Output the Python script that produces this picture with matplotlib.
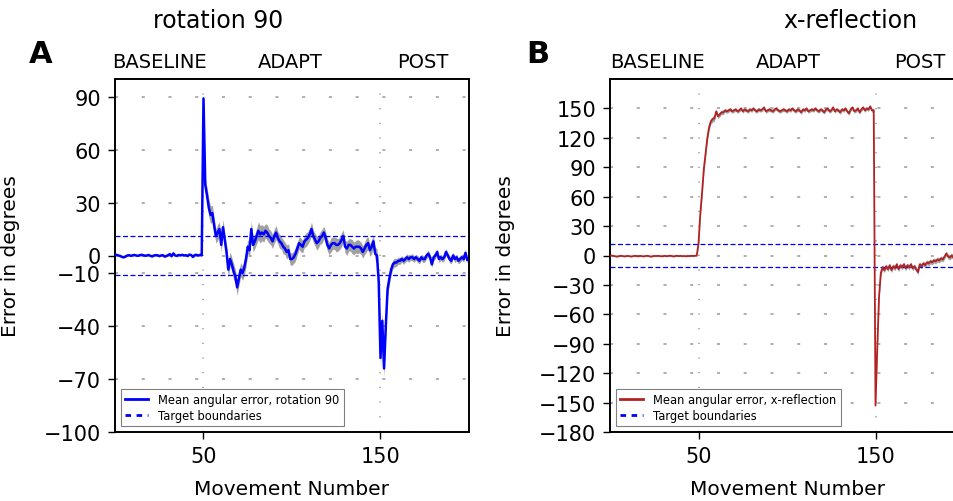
import matplotlib
matplotlib.use("Agg")
import matplotlib.pyplot as plt
import matplotlib.transforms as mtransforms
from matplotlib.lines import Line2D
import numpy as np

# movement numbers run 0..199: baseline 0-49, adapt 50-149, post 150-199
phase_names = ["BASELINE", "ADAPT", "POST"]
x_ticks = [50, 150]

# rotation 90: mean angular error per movement
rot_base = [0.5, 0.3, 0.0, -0.3, -0.8, -1.0, -0.5, 0.0, 0.2, -0.2,
            0.1, 0.3, 0.0, -0.2, 0.2, 0.4, 0.1, -0.1, 0.0, 0.3,
            -0.2, -0.5, 0.0, 0.2, 0.1, -0.3, 0.0, 0.2, -0.6, -0.3,
            0.2, 0.8, -0.4, 1.2, 0.0, -0.2, 0.3, 0.1, 0.4, 0.0,
            0.2, -0.3, 0.5, 0.3, -0.8, 0.2, 0.4, 0.0, 0.3, 0.1]
rot_adapt = [89, 40, 34, 27, 23, 24, 17, 11, 13, 15,
             6, 16, 9, 2, -8, -2, -5, -9, -12, -18,
             -13, -8, -10, -7, -2, 5, 3, 15, 6, 8,
             11, 14, 12, 13, 12, 14, 13, 11, 10, 8,
             11, 13, 10, 8, 7, 5, 4, 2, 3, -2,
             -2, -1, 1, 4, 7, 6, 5, 8, 9, 10,
             12, 15, 11, 9, 7, 8, 10, 11, 13, 10,
             6, 4, 6, 7, 7, 6, 6, 7, 9, 11,
             5, 4, 6, 6, 5, 4, 5, 5, 5, 4,
             2, 4, 6, 7, 3, 5, 8, 1, 0, -15]
rot_post = [-58, -37, -64, -40, -19, -13, -8, -5, -4, -4,
            -3, -3, -2, -3, -2, -1, -2, -1, -1, -2,
            -1, -2, -3, -1, -2, -2, 0, 1, -1, -5,
            -1, 0, 2, -2, -1, -2, -1, 2, 0, -2,
            -3, 0, -2, -1, -3, -2, -1, -2, 1.5, -2.5]
rot_sem = [0.4, 0.5, 0.4, 0.5, 0.6, 0.5, 0.4, 0.5, 0.4, 0.5,
           0.5, 0.4, 0.5, 0.4, 0.5, 0.6, 0.5, 0.4, 0.5, 0.4,
           0.4, 0.5, 0.4, 0.5, 0.6, 0.5, 0.4, 0.5, 0.4, 0.5,
           0.5, 0.4, 0.5, 0.4, 0.5, 0.6, 0.5, 0.4, 0.5, 0.4,
           0.4, 0.5, 0.4, 0.5, 0.6, 0.5, 0.4, 0.5, 0.4, 0.5,
           2.0, 4.0, 4.5, 5.0, 5.0, 4.5, 4.5, 4.0, 4.5, 4.0,
           4.0, 4.5, 4.0, 4.0, 4.5, 4.0, 4.0, 4.5, 4.0, 4.5,
           4.0, 4.0, 4.0, 4.5, 4.5, 4.0, 4.0, 4.5, 4.0, 4.0,
           4.5, 5.0, 5.0, 4.5, 4.5, 4.0, 4.5, 4.0, 4.0, 4.0,
           4.0, 4.0, 3.5, 4.0, 3.5, 4.0, 3.5, 4.0, 3.5, 3.5,
           3.5, 3.5, 4.0, 3.5, 3.5, 4.0, 3.5, 3.5, 4.0, 3.5,
           3.5, 4.0, 3.5, 3.5, 4.0, 3.5, 3.5, 4.0, 3.5, 3.5,
           3.5, 3.5, 4.0, 3.5, 3.5, 4.0, 3.5, 3.5, 4.0, 3.5,
           3.5, 4.0, 3.5, 3.5, 4.0, 3.5, 3.5, 4.0, 3.5, 3.5,
           3.5, 3.5, 4.0, 3.5, 3.5, 4.0, 3.5, 3.5, 4.0, 4.5,
           5.0, 5.0, 5.0, 4.5, 4.0, 3.5, 3.0, 2.5, 2.5, 2.2,
           2.0, 2.0, 1.8, 2.0, 1.8, 2.0, 1.8, 1.7, 2.0, 1.8,
           1.7, 2.0, 1.8, 1.7, 2.0, 1.8, 1.7, 2.0, 1.8, 1.7,
           2.0, 1.8, 1.7, 2.0, 1.8, 1.7, 2.0, 1.8, 1.7, 2.0,
           1.8, 1.7, 2.0, 1.8, 1.7, 2.0, 1.8, 1.7, 2.0, 1.8]

# x-reflection: mean angular error per movement
ref_base = [-0.2, 0.0, -0.5, -0.8, -1.0, -0.6, -0.3, -0.5, -0.9, -0.6,
            -0.4, -0.7, -1.0, -0.6, -0.3, -0.5, -0.8, -0.4, -0.6, -0.9,
            -0.5, -0.3, -0.6, -1.1, -0.7, -0.4, -0.6, -0.3, -0.5, -0.8,
            -0.6, -0.4, -0.7, -0.5, -0.2, -0.6, -0.9, -0.5, -0.3, -0.6,
            -0.4, -0.7, -0.5, -0.8, -0.4, -0.6, -0.3, -0.5, -0.2, -0.1]
ref_adapt = [12, 42, 64, 88, 104, 120, 131, 137, 139, 140,
             147, 142, 144, 146, 146, 148, 147, 148, 149, 147,
             148, 149, 147, 148, 150, 147, 149, 148, 147, 149,
             148, 150, 148, 147, 149, 148, 149, 151, 147, 148,
             149, 148, 147, 149, 150, 148, 147, 148, 149, 148,
             147, 149, 148, 150, 148, 147, 149, 148, 146, 149,
             148, 150, 147, 148, 149, 148, 150, 148, 147, 149,
             148, 146, 149, 150, 147, 148, 151, 147, 149, 148,
             146, 149, 148, 150, 147, 145, 149, 151, 147, 148,
             150, 146, 149, 151, 148, 150, 149, 152, 148, 148]
ref_post = [-153, -95, -42, -18, -12, -15, -11, -14, -10, -15,
            -11, -13, -9, -14, -10, -12, -9, -13, -10, -12,
            -9, -13, -11, -14, -17, -9, -11, -8, -10, -7,
            -8, -6, -7, -5, -6, -4, -5, -3, -4, -1,
            2, -1, -2, 0, -2, -1, -2, 0, -1, -1]
ref_sem = [0.5, 0.6, 0.5, 0.6, 0.7, 0.6, 0.5, 0.6, 0.5, 0.6,
           0.6, 0.5, 0.6, 0.5, 0.6, 0.7, 0.6, 0.5, 0.6, 0.5,
           0.5, 0.6, 0.5, 0.6, 0.7, 0.6, 0.5, 0.6, 0.5, 0.6,
           0.6, 0.5, 0.6, 0.5, 0.6, 0.7, 0.6, 0.5, 0.6, 0.5,
           0.5, 0.6, 0.5, 0.6, 0.7, 0.6, 0.5, 0.6, 0.5, 0.6,
           2.5, 3.5, 4.0, 4.0, 3.5, 3.5, 3.5, 3.0, 3.0, 3.0,
           2.5, 2.5, 2.5, 2.2, 2.2, 2.0, 2.0, 2.0, 2.0, 2.0,
           2.0, 1.8, 2.0, 1.8, 2.0, 1.8, 2.0, 1.8, 2.0, 1.8,
           2.0, 1.8, 2.0, 1.8, 2.0, 1.8, 2.0, 1.8, 2.0, 1.8,
           2.0, 1.8, 2.0, 1.8, 2.0, 1.8, 2.0, 1.8, 2.0, 1.8,
           2.0, 1.8, 2.0, 1.8, 2.0, 1.8, 2.0, 1.8, 2.0, 1.8,
           2.0, 1.8, 2.0, 1.8, 2.0, 1.8, 2.0, 1.8, 2.0, 1.8,
           2.0, 1.8, 2.0, 1.8, 2.0, 1.8, 2.0, 1.8, 2.0, 1.8,
           2.0, 1.8, 2.0, 1.8, 2.0, 1.8, 2.0, 1.8, 2.0, 1.8,
           2.0, 1.8, 2.0, 1.8, 2.0, 1.8, 2.0, 1.8, 2.0, 2.2,
           3.0, 3.5, 3.5, 3.0, 2.5, 2.5, 2.5, 2.5, 2.5, 2.5,
           2.5, 2.5, 2.5, 2.5, 2.5, 2.5, 2.5, 2.5, 2.5, 2.5,
           2.5, 2.5, 2.5, 2.5, 2.5, 2.5, 2.5, 2.5, 2.5, 2.5,
           2.5, 2.5, 2.5, 2.5, 2.5, 2.5, 2.5, 2.5, 2.5, 2.5,
           2.5, 2.5, 2.5, 2.5, 2.5, 2.5, 2.5, 2.5, 2.5, 2.5]

target_bound = 11.25

rot_yticks = [90, 60, 30, 0, -10, -40, -70, -100]
ref_yticks = [150, 120, 90, 60, 30, 0, -30, -60, -90, -120, -150, -180]


def draw_panel(ax, mean, sem, color, lw, name, ylim, yticks, phase_x):
    mean = np.array(mean, dtype=float)
    sem = np.array(sem, dtype=float)
    x = np.arange(len(mean))

    ax.fill_between(x, mean - sem, mean + sem, color='#a0a0a0', lw=0, zorder=2)
    ax.plot(x, mean, color=color, lw=lw, zorder=3)
    for b in (target_bound, -target_bound):
        ax.axhline(b, color='blue', ls='--', lw=0.9, dashes=(4, 2), zorder=2.5)

    ax.set_xlim(0, 200)
    ax.set_ylim(*ylim)
    ax.set_xticks(x_ticks)
    ax.set_yticks(yticks)
    ax.tick_params(labelsize=15, direction='out', length=5, width=1, pad=5)
    for s in ax.spines.values():
        s.set_linewidth(1.4)

    # sparse grey grid
    ax.yaxis.grid(True, color='#999999', lw=1.1, linestyle=(0, (2.0, 15.5)), zorder=0)
    ax.xaxis.grid(True, color='#999999', lw=1.1, linestyle=(0, (0.8, 8.8)), zorder=0)
    ax.set_axisbelow(True)

    ax.set_ylabel('Error in degrees', fontsize=14.5)
    ax.yaxis.set_label_coords(-0.268, 0.5)
    ax.set_xlabel('Movement Number', fontsize=14.5)
    ax.xaxis.set_label_coords(0.5, -0.132)

    trans = mtransforms.blended_transform_factory(ax.transData, ax.figure.transFigure)
    for px, lab in zip(phase_x, phase_names):
        ax.text(px, 0.8645, lab, transform=trans, ha='center', va='baseline',
                fontsize=14)

    handles = [Line2D([], [], color=color, lw=2),
               Line2D([], [], color='blue', lw=2, ls='--', dashes=(2, 2))]
    labels = ['Mean angular error, ' + name, 'Target boundaries']
    leg = ax.legend(handles, labels, loc='lower left', fontsize=8.3,
                    fancybox=False, framealpha=1, edgecolor='#808080',
                    borderaxespad=0.5, handlelength=2.0, borderpad=0.4,
                    labelspacing=0.2)
    leg.get_frame().set_linewidth(0.8)


fig = plt.figure(figsize=(9.54, 5.02), dpi=100)
ax1 = fig.add_axes([115 / 954, 69 / 502, 354 / 954, 353 / 502])
ax2 = fig.add_axes([610 / 954, 69 / 502, 354 / 954, 353 / 502])

draw_panel(ax1, rot_base + rot_adapt + rot_post, rot_sem, 'blue', 1.8,
           'rotation 90', (-100, 100), rot_yticks, [25, 99, 174])
draw_panel(ax2, ref_base + ref_adapt + ref_post, ref_sem, '#b22222', 1.3,
           'x-reflection', (-180, 180), ref_yticks, [27, 101, 175])

fig.text(218 / 954, 0.944, 'rotation 90', ha='center', va='baseline', fontsize=17)
fig.text(850 / 954, 0.944, 'x-reflection', ha='center', va='baseline', fontsize=17)
fig.text(29 / 954, 0.8745, 'A', ha='left', va='baseline', fontsize=22, fontweight='bold')
fig.text(526 / 954, 0.8745, 'B', ha='left', va='baseline', fontsize=22, fontweight='bold')

fig.savefig('out.png', dpi=100)
